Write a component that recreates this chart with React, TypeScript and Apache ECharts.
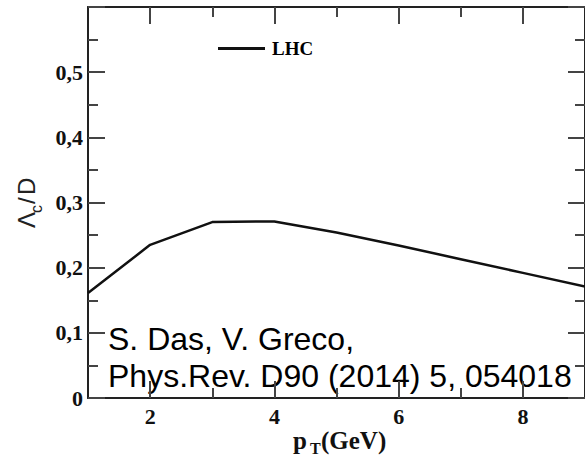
import React, { useEffect, useRef } from "react";
import * as echarts from "echarts";

const ptValues = [1, 2, 3, 4, 5, 6, 7, 8, 9];
const ratioLHC = [0.161, 0.235, 0.27, 0.271, 0.254, 0.234, 0.213, 0.192, 0.171];
const xMajorTicks = [2, 4, 6, 8];
const xMinorTicks = [3, 5, 7];
const seriesName = "LHC";
const citeLines = ["S. Das, V. Greco,", "Phys.Rev. D90 (2014) 5, 054018"];

const SERIF = "'Liberation Serif', 'Times New Roman', serif";
const SANS = "'Liberation Sans', Arial, sans-serif";

export default function App() {
  const ref = useRef<HTMLDivElement>(null);
  useEffect(() => {
    if (!ref.current) return;
    const chart = echarts.init(ref.current, null, { renderer: "svg" });
    const axisLine = { show: true, lineStyle: { color: "#222", width: 2 } };
    const tickStyle = { color: "#444", width: 2 };
    const xBase = { type: "value", min: 1, max: 9, splitLine: { show: false } };
    const yBase = {
      type: "value",
      min: 0,
      max: 0.6,
      interval: 0.1,
      splitLine: { show: false },
      minorSplitLine: { show: false },
    };
    const fmtY = (v: number) => {
      if (Math.abs(v - 0.6) < 1e-6) return "";
      if (Math.abs(v) < 1e-9) return "0";
      return v.toFixed(1).replace(".", ",");
    };
    const sub = (fs: number) => -0.3465 * fs;
    chart.setOption({
      animation: false,
      backgroundColor: "#fff",
      grid: { left: 88, top: 7, right: -10, bottom: 61, containLabel: false },
      legend: {
        left: 213,
        top: 34,
        icon: "rect",
        itemWidth: 47,
        itemHeight: 3,
        data: [seriesName],
        textStyle: {
          fontFamily: SERIF,
          fontWeight: "bold",
          fontSize: 19,
          color: "#000",
          padding: [0, 0, 0, 2],
        },
      },
      xAxis: [
        {
          ...xBase,
          position: "bottom",
          axisLine,
          axisTick: { show: true, inside: true, length: 17, lineStyle: tickStyle, customValues: xMajorTicks },
          axisLabel: {
            customValues: xMajorTicks,
            margin: 7,
            fontFamily: SERIF,
            fontWeight: "bold",
            fontSize: 22,
            color: "#111",
          },
        },
        {
          ...xBase,
          position: "bottom",
          axisLine: { show: false },
          axisTick: { show: true, inside: true, length: 10, lineStyle: tickStyle, customValues: xMinorTicks },
          axisLabel: { show: false },
        },
        {
          ...xBase,
          position: "top",
          axisLine,
          axisTick: { show: true, inside: true, length: 17, lineStyle: tickStyle, customValues: xMajorTicks },
          axisLabel: { show: false },
        },
        {
          ...xBase,
          position: "top",
          axisLine: { show: false },
          axisTick: { show: true, inside: true, length: 10, lineStyle: tickStyle, customValues: xMinorTicks },
          axisLabel: { show: false },
        },
      ],
      yAxis: [
        {
          ...yBase,
          position: "left",
          axisLine,
          axisTick: { show: true, inside: true, length: 17, lineStyle: tickStyle },
          minorTick: { show: true, splitNumber: 2, length: 10, lineStyle: tickStyle },
          axisLabel: {
            formatter: fmtY,
            margin: 5,
            fontFamily: SERIF,
            fontWeight: "bold",
            fontSize: 22,
            color: "#111",
          },
        },
        {
          ...yBase,
          position: "right",
          axisLine,
          axisTick: { show: true, inside: true, length: 17, lineStyle: tickStyle },
          minorTick: { show: true, splitNumber: 2, length: 10, lineStyle: tickStyle },
          axisLabel: { show: false },
        },
      ],
      series: [
        {
          name: seriesName,
          type: "line",
          xAxisIndex: 0,
          yAxisIndex: 0,
          data: ptValues.map((x, i) => [x, ratioLHC[i]]),
          showSymbol: false,
          symbol: "none",
          color: "#111",
          lineStyle: { color: "#111", width: 2.5 },
        },
      ],
      graphic: [
        {
          type: "text",
          x: 108,
          y: 350 + sub(32),
          style: { text: citeLines[0], font: `32px ${SANS}`, fill: "#000", align: "left", verticalAlign: "middle" },
        },
        {
          type: "text",
          x: 108,
          y: 387 + sub(32),
          style: { text: citeLines[1], font: `32px ${SANS}`, fill: "#000", align: "left", verticalAlign: "middle" },
        },
        // x axis title p_T(GeV)
        {
          type: "group",
          children: [
            {
              type: "text",
              x: 293,
              y: 449 - 0.3375 * 25,
              style: { text: "p", font: `bold 25px ${SERIF}`, fill: "#111", align: "left", verticalAlign: "middle" },
            },
            {
              type: "text",
              x: 310,
              y: 454 - 0.3375 * 16,
              style: { text: "T", font: `bold 16px ${SERIF}`, fill: "#111", align: "left", verticalAlign: "middle" },
            },
            {
              type: "text",
              x: 321,
              y: 449 - 0.3375 * 25,
              style: { text: "(GeV)", font: `bold 25px ${SERIF}`, fill: "#111", align: "left", verticalAlign: "middle" },
            },
          ],
        },
        // y axis title Λc/D
        {
          type: "group",
          x: 35,
          y: 228,
          rotation: Math.PI / 2,
          children: [
            {
              type: "text",
              x: 0,
              y: sub(24),
              style: { text: "Λ", font: `24px ${SANS}`, fill: "#222", align: "left", verticalAlign: "middle" },
            },
            {
              type: "text",
              x: 15,
              y: 7 + sub(16),
              style: { text: "c", font: `16px ${SANS}`, fill: "#222", align: "left", verticalAlign: "middle" },
            },
            {
              type: "text",
              x: 24,
              y: sub(24),
              style: { text: "/", font: `24px ${SANS}`, fill: "#222", align: "left", verticalAlign: "middle" },
            },
            {
              type: "text",
              x: 33,
              y: sub(24),
              style: { text: "D", font: `24px ${SANS}`, fill: "#222", align: "left", verticalAlign: "middle" },
            },
          ],
        },
      ],
    });
    return () => chart.dispose();
  }, []);
  return (
    <div
      ref={ref}
      style={{ position: "absolute", left: 0, top: 0, width: 585, height: 459, background: "#fff" }}
    />
  );
}
